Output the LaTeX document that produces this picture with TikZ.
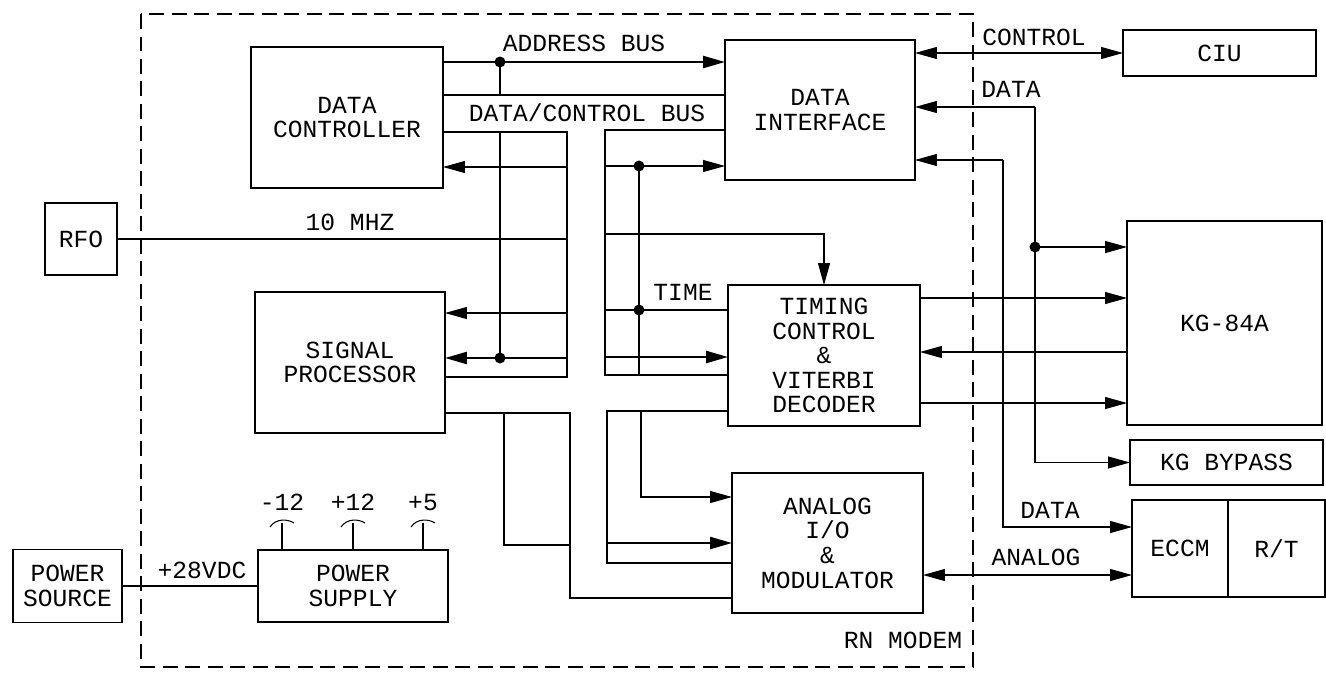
\documentclass[tikz,border=0pt]{standalone}
\usepackage{fontspec}
\setmonofont{Liberation Mono}
\usetikzlibrary{arrows.meta, positioning, calc}

\begin{document}
\begin{tikzpicture}[x=0.02cm, y=-0.02cm,
    font=\fontsize{14}{14}\selectfont\ttfamily,
    block/.style={draw, line width=1.1pt, align=center, inner sep=0pt, outer sep=0pt},
    wire/.style={line width=0.6pt},
    bus/.style={line width=1.4pt},
    arrow/.style={-{Triangle[length=4.4mm, width=2.4mm]}},
    biarrow/.style={{Triangle[length=4.4mm, width=2.4mm]}-{Triangle[length=4.4mm, width=2.4mm]}},
    joint/.style={circle, fill, inner sep=0pt, minimum size=0.22cm},
    modem/.style={dash pattern=on 0.3cm off 0.15cm, line width=0.7pt}
  ]
    \useasboundingbox (0,0) rectangle (1326,674);

    % RN modem frame
    \draw[modem] (141,14) rectangle (973,667);
    \node (modem) at (903,640) {RN MODEM};

    % Data controller
    \node[block, minimum width=3.84cm, minimum height=2.82cm] (dc) at (347,117.5) {DATA\\CONTROLLER};

    % Signal processor
    \node[block, minimum width=3.80cm, minimum height=2.82cm] (sp) at (350,362.5) {SIGNAL\\PROCESSOR};

    % RFO
    \node[block, minimum width=1.44cm, minimum height=1.44cm] (rfo) at (81,239) {RFO};

    % Power source
    \node[block, minimum width=2.18cm, minimum height=1.46cm] (src) at (67.5,586) {POWER\\SOURCE};

    % Power supply
    \node[block, minimum width=3.80cm, minimum height=1.44cm] (psu) at (353,586) {POWER\\SUPPLY};

    % Data interface
    \node[block, minimum width=3.80cm, minimum height=2.80cm] (di) at (820,110) {DATA\\INTERFACE};

    % Timing control
    \node[block, minimum width=3.84cm, minimum height=2.82cm] (tc) at (824,355.5) {TIMING\\CONTROL\\\&\\VITERBI\\DECODER};

    % Analog I/O
    \node[block, minimum width=3.82cm, minimum height=2.80cm] (aio) at (827.5,543) {ANALOG\\I/O\\\&\\MODULATOR};

    % CIU
    \node[block, minimum width=3.86cm, minimum height=0.92cm] (ciu) at (1219.5,53) {CIU};

    % KG-84A
    \node[block, minimum width=3.90cm, minimum height=4.08cm] (kg) at (1224.5,323) {KG-84A};

    % KG bypass
    \node[block, minimum width=3.86cm, minimum height=0.90cm] (kgb) at (1226.5,462.5) {KG BYPASS};

    % ECCM and R/T
    \node[block, minimum width=1.92cm, minimum height=1.94cm] (eccm) at (1180,548.5) {ECCM};
    \node[block, minimum width=1.94cm, minimum height=1.94cm, right=0pt of eccm] (rt) {R/T};

    % Address bus
    \draw[bus, arrow] (dc.east |- 0,62) -- (di.west |- 0,62);
    \node[joint] (abus) at (500,62) {};
    \draw[bus] (abus.center) -- (500,95);
    \draw[bus] (500,132) -- (500,358);
    \node[joint] (sbus) at (500,358) {};
    \draw[bus, arrow] (567,358) -- (sp.east |- 0,358);
    \draw[bus, arrow] (605,357) -- (tc.west |- 0,357);
    \draw[bus] (504,413) -- (504,545) -- (570,545);
    \draw[bus, arrow] (607,543) -- (aio.west |- 0,543);
    \node (abuslabel) at (584,43) {ADDRESS BUS};

    % Data/control bus
    \draw[wire] (dc.east |- 0,95) -- (di.west |- 0,95);
    \draw[wire] (dc.east |- 0,132) -| (567,377) -- (sp.east |- 0,377);
    \draw[wire] (di.west |- 0,130) -| (605,375) -- (tc.west |- 0,375);
    \draw[wire] (sp.east |- 0,413) -| (570,598) -- (aio.west |- 0,598);
    \draw[wire] (tc.west |- 0,411) -| (607,563) -- (aio.west |- 0,563);
    \node (dbuslabel) at (587,113) {DATA/CONTROL BUS};

    % Taps off the bus
    \draw[wire, arrow] (567,167) -- (dc.east |- 0,167);
    \draw[wire, arrow] (567,313) -- (sp.east |- 0,313);
    \draw[wire, arrow] (605,166) -- (di.west |- 0,166);
    \node[joint] (dtap) at (639,166) {};
    \draw[wire] (dtap.center) -- (639,375);
    \node[joint] (ttap) at (639,310) {};
    \draw[wire] (605,310) -- (tc.west |- 0,310);
    \node (timelabel) at (683,292) {TIME};
    \draw[wire, arrow] (641,411) |- (aio.west |- 0,497);

    % 10 MHz reference
    \draw[wire] (rfo) -- (rfo -| 567,0);
    \draw[wire, arrow] (605,234) -| (tc.north);
    \node (mhzlabel) at (350,222) {10 MHZ};

    % External interfaces
    \draw[wire, biarrow] (di.east |- ciu) -- (ciu);
    \node (ctllabel) at (1034,37) {CONTROL};
    \draw[wire, arrow] (1035,107) -- (di.east |- 0,107);
    \draw[wire, arrow] (1035,107) |- (kgb);
    \node[joint] (kgtap) at (1035,247) {};
    \draw[wire, arrow] (kgtap.center) -- (kg.west |- kgtap);
    \node (datalabel) at (1011,89) {DATA};
    \draw[wire, arrow] (1003,160) -- (di.east |- 0,160);
    \draw[wire, arrow] (1003,160) |- (eccm.west |- 0,527);
    \node (eccmlabel) at (1050,510) {DATA};

    \draw[wire, arrow] (tc.east |- 0,298) -- (kg.west |- 0,298);
    \draw[wire, arrow] (kg.west |- 0,352) -- (tc.east |- 0,352);
    \draw[wire, arrow] (tc.east |- 0,403) -- (kg.west |- 0,403);
    \draw[wire, biarrow] (aio.east |- 0,575) -- (eccm.west |- 0,575);
    \node (analoglabel) at (1036,557) {ANALOG};

    % Power
    \draw[wire] (src) -- (psu);
    \node (vdclabel) at (202,570) {+28VDC};
    \foreach \x/\v in {282/-12, 353/+12, 423/+5} {
      \draw[wire] (psu.north -| \x,0) -- (\x,523);
      \draw[wire] (\x-12,527) .. controls (\x-6,518) and (\x+6,519) .. (\x+12,523);
      \node[anchor=base] (v\x) at (\x,510) {\v};
    }

\end{tikzpicture}
\end{document}
